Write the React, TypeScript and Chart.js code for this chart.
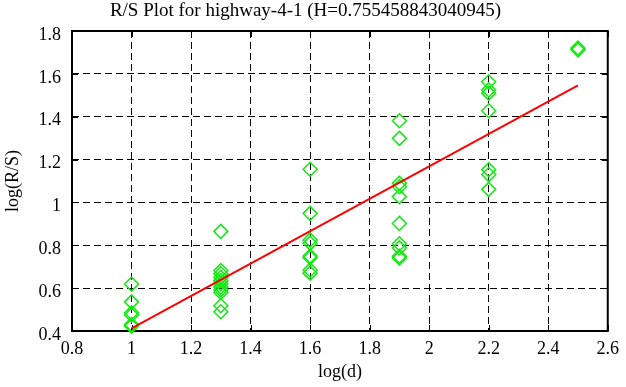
import React, { useEffect, useRef } from "react";
import { Chart, registerables } from "chart.js";

Chart.register(...registerables);

const TITLE = "R/S Plot for highway-4-1 (H=0.755458843040945)";
const X_LABEL = "log(d)";
const Y_LABEL = "log(R/S)";

const xTicks = [0.8, 1, 1.2, 1.4, 1.6, 1.8, 2, 2.2, 2.4, 2.6];
const yTicks = [0.4, 0.6, 0.8, 1, 1.2, 1.4, 1.6, 1.8];

// R/S points grouped by log(d)
const logD1 = [1, 1, 1, 1, 1, 1];
const rs1 = [0.619, 0.536, 0.485, 0.475, 0.43, 0.423];
const logD2 = [1.3, 1.3, 1.3, 1.3, 1.3, 1.3, 1.3, 1.3, 1.3, 1.3, 1.3];
const rs2 = [0.865, 0.682, 0.667, 0.65, 0.635, 0.62, 0.605, 0.592, 0.58, 0.518, 0.49];
const logD3 = [1.6, 1.6, 1.6, 1.6, 1.6, 1.6, 1.6, 1.6];
const rs3 = [1.155, 0.949, 0.825, 0.81, 0.75, 0.742, 0.685, 0.67];
const logD4 = [1.9, 1.9, 1.9, 1.9, 1.9, 1.9, 1.9, 1.9, 1.9, 1.9];
const rs4 = [1.381, 1.299, 1.089, 1.073, 1.027, 0.902, 0.807, 0.788, 0.749, 0.741];
const logD5 = [2.2, 2.2, 2.2, 2.2, 2.2, 2.2, 2.2];
const rs5 = [1.563, 1.525, 1.51, 1.428, 1.153, 1.13, 1.061];
const logD6 = [2.5, 2.5];
const rs6 = [1.72, 1.712];

// fitted line (slope = H)
const fitX = [1, 2.5];
const fitY = [0.412, 1.546];

const FONT = "'Liberation Serif', 'Times New Roman', serif";

const boxPlugin = {
  id: "boxPlugin",
  beforeDatasetsDraw(chart: any) {
    const { ctx, chartArea } = chart;
    const { left, right, top, bottom } = chartArea;
    const xs = chart.scales.x;
    const ys = chart.scales.y;
    ctx.save();
    ctx.strokeStyle = "#000";
    ctx.lineWidth = 1;
    ctx.setLineDash([]);
    const tl = 6;
    xTicks.forEach((v) => {
      const px = Math.round(xs.getPixelForValue(v)) + 0.5;
      ctx.beginPath();
      ctx.moveTo(px, bottom);
      ctx.lineTo(px, bottom - tl);
      ctx.moveTo(px, top);
      ctx.lineTo(px, top + tl);
      ctx.stroke();
    });
    yTicks.forEach((v) => {
      const py = Math.round(ys.getPixelForValue(v)) + 0.5;
      ctx.beginPath();
      ctx.moveTo(left, py);
      ctx.lineTo(left + tl, py);
      ctx.moveTo(right, py);
      ctx.lineTo(right - tl, py);
      ctx.stroke();
    });
    ctx.lineWidth = 2;
    ctx.strokeRect(left, top, right - left, bottom - top);
    ctx.restore();
  },
};

function pts(xs: number[], ys: number[]) {
  return xs.map((x, i) => ({ x, y: ys[i] }));
}

export default function App() {
  const ref = useRef<HTMLCanvasElement>(null);

  useEffect(() => {
    if (!ref.current) return;
    const green = "rgb(20,232,20)";
    const allPoints = [
      ...pts(logD1, rs1),
      ...pts(logD2, rs2),
      ...pts(logD3, rs3),
      ...pts(logD4, rs4),
      ...pts(logD5, rs5),
      ...pts(logD6, rs6),
    ];
    const chart = new Chart(ref.current, {
      type: "scatter",
      data: {
        datasets: [
          {
            label: "fit",
            data: pts(fitX, fitY),
            showLine: true,
            borderColor: "#ff0000",
            borderWidth: 2,
            pointRadius: 0,
            fill: false,
          },
          {
            label: "R/S",
            data: allPoints,
            pointStyle: "rectRot",
            pointRadius: 7,
            borderColor: green,
            backgroundColor: "rgba(0,0,0,0)",
            pointBorderWidth: 1.5,
            borderWidth: 1.5,
            clip: false as any,
          } as any,
        ],
      },
      plugins: [boxPlugin],
      options: {
        animation: false,
        responsive: false,
        maintainAspectRatio: false,
        layout: { padding: { left: 0, right: 15, top: 0, bottom: 0 } },
        plugins: {
          legend: { display: false },
          tooltip: { enabled: false },
          title: {
            display: true,
            text: TITLE,
            color: "#000",
            font: { family: FONT, size: 19, weight: "normal" },
            padding: { top: 0, bottom: 8.2 },
          },
        },
        scales: {
          x: {
            type: "linear",
            min: 0.8,
            max: 2.6,
            afterFit: (s: any) => {
              s.height = 56;
            },
            afterBuildTicks: (s: any) => {
              s.ticks = xTicks.map((v) => ({ value: v }));
            },
            ticks: {
              color: "#000",
              font: { family: FONT, size: 18 },
              padding: 7,
              maxRotation: 0,
              autoSkip: false,
              callback: (v: any) => String(v),
            },
            grid: { color: "#000", lineWidth: 1, drawTicks: false },
            border: { display: false, dash: [7, 4] },
            title: {
              display: true,
              text: X_LABEL,
              color: "#000",
              font: { family: FONT, size: 18 },
              padding: { top: 0, bottom: 4 },
            },
          },
          y: {
            type: "linear",
            min: 0.4,
            max: 1.8,
            afterFit: (s: any) => {
              s.width = 72;
            },
            afterBuildTicks: (s: any) => {
              s.ticks = yTicks.map((v) => ({ value: v }));
            },
            ticks: {
              color: "#000",
              font: { family: FONT, size: 18 },
              padding: 11,
              labelOffset: 4,
              autoSkip: false,
              callback: (v: any) => String(v),
            },
            grid: { color: "#000", lineWidth: 1, drawTicks: false },
            border: { display: false, dash: [7, 4] },
            title: {
              display: true,
              text: Y_LABEL,
              color: "#000",
              font: { family: FONT, size: 18 },
              padding: { top: 2, bottom: 0 },
            },
          },
        },
      } as any,
    });
    return () => chart.destroy();
  }, []);

  return (
    <div style={{ position: "fixed", left: 0, top: 0, width: 626, height: 387, background: "#fff" }}>
      <canvas ref={ref} width={626} height={387} style={{ width: 626, height: 387, display: "block" }} />
    </div>
  );
}
